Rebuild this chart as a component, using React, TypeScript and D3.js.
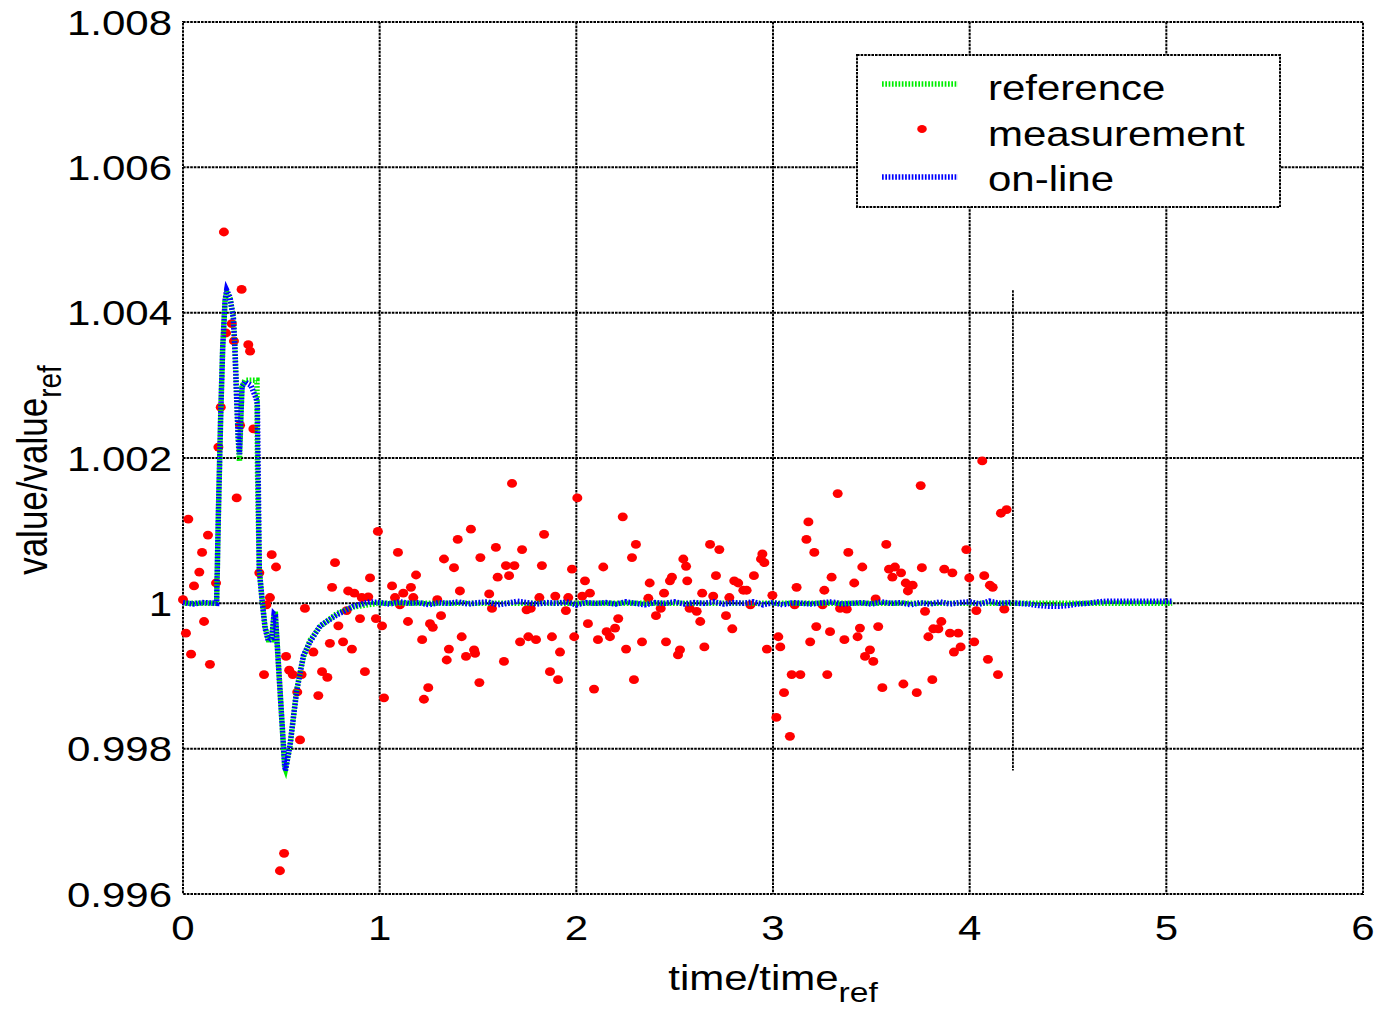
import React from "react";
import * as d3 from "d3";

// Axis ticks
const xTicks = [0, 1, 2, 3, 4, 5, 6];
const xTickLabels = ["0", "1", "2", "3", "4", "5", "6"];
const yTicks = [0.996, 0.998, 1, 1.002, 1.004, 1.006, 1.008];
const yTickLabels = ["0.996", "0.998", "1", "1.002", "1.004", "1.006", "1.008"];

const legendLabels = ["reference", "measurement", "on-line"];

// Reference trajectory (time, value)
const referenceCurve: [number, number][] = [
  [0, 1], [0.171, 1], [0.18, 1.00124], [0.192, 1.00262], [0.202, 1.00353],
  [0.214, 1.00417], [0.222, 1.00428], [0.239, 1.0042], [0.256, 1.00394],
  [0.264, 1.00353], [0.273, 1.00284], [0.281, 1.00225], [0.287, 1.00195],
  [0.295, 1.00262], [0.3, 1.00298], [0.315, 1.00307], [0.376, 1.00307],
  [0.379, 1.0018], [0.388, 1.00046], [0.402, 1.00005], [0.417, 0.99968],
  [0.434, 0.9995], [0.451, 0.9995], [0.463, 0.99985], [0.47, 0.99985],
  [0.517, 0.99775], [0.521, 0.99772], [0.544, 0.99803], [0.578, 0.99881],
  [0.612, 0.99926], [0.646, 0.99949], [0.697, 0.99968], [0.782, 0.99986],
  [0.866, 0.99995], [0.985, 1], [5.03, 1],
];

// On-line estimate (time, value)
const onlineCurve: [number, number][] = [
  [0, 1.00001], [0.05, 0.99999], [0.1, 1.00001], [0.171, 1], [0.18, 1.00124],
  [0.192, 1.00262], [0.202, 1.00353], [0.214, 1.00417], [0.222, 1.00431],
  [0.239, 1.00421], [0.256, 1.00392], [0.264, 1.0035], [0.273, 1.0028],
  [0.281, 1.00228], [0.287, 1.00205], [0.295, 1.00262], [0.3, 1.00298],
  [0.315, 1.00305], [0.345, 1.003], [0.372, 1.00282], [0.378, 1.00275],
  [0.388, 1.00046], [0.402, 1.00005], [0.417, 0.99966], [0.434, 0.99948],
  [0.451, 0.99952], [0.463, 0.99985], [0.47, 0.99983], [0.517, 0.99776],
  [0.521, 0.9977], [0.544, 0.99805], [0.578, 0.99879], [0.612, 0.99928],
  [0.646, 0.99947], [0.697, 0.99969], [0.782, 0.99984], [0.866, 0.99996],
  [0.95, 1.00002], [1.0, 1.00001], [1.05, 0.99999], [1.1, 1.00002], [1.15, 1],
  [1.2, 1.00001], [1.25, 0.99998], [1.3, 1.00001], [1.35, 1], [1.4, 1.00002],
  [1.45, 0.99999], [1.5, 1.00001], [1.55, 1.00002], [1.6, 0.99998], [1.65, 1],
  [1.7, 1.00003], [1.75, 1.00001], [1.8, 0.99999], [1.85, 1.00001], [1.9, 1],
  [1.95, 1.00002], [2.0, 0.99998], [2.05, 1.00001], [2.1, 1], [2.15, 1.00001],
  [2.2, 0.99999], [2.25, 1.00002], [2.3, 1], [2.35, 0.99998], [2.4, 1.00001],
  [2.45, 1], [2.5, 1.00002], [2.55, 0.99999], [2.6, 1.00001], [2.65, 1],
  [2.7, 1.00002], [2.75, 0.99999], [2.8, 1.00001], [2.85, 1], [2.9, 1.00002],
  [2.95, 0.99998], [3.0, 1.00001], [3.05, 0.99998], [3.1, 1.00001], [3.15, 1],
  [3.2, 0.99999], [3.25, 1.00001], [3.3, 1.00002], [3.35, 0.99999], [3.4, 1],
  [3.45, 1.00001], [3.5, 0.99999], [3.55, 1.00002], [3.6, 1], [3.65, 1.00001],
  [3.7, 0.99998], [3.75, 1.00001], [3.8, 0.99999], [3.85, 1.00002], [3.9, 0.99999],
  [3.95, 1.00001], [4.0, 1.00002], [4.05, 0.99999], [4.1, 1.00003], [4.15, 1],
  [4.2, 1.00001], [4.25, 1], [4.3, 0.99999], [4.35, 0.99997], [4.4, 0.99996],
  [4.45, 0.99996], [4.5, 0.99997], [4.55, 0.99999], [4.6, 1], [4.65, 1.00002],
  [4.7, 1.00003], [5.03, 1.00003],
];

// Measured samples (time, value)
const measurement: [number, number][] = [
  [0, 1.00005], [0.015, 0.99959], [0.027, 1.00116], [0.041, 0.9993], [0.056, 1.00024],
  [0.083, 1.00043], [0.097, 1.0007], [0.107, 0.99975], [0.127, 1.00094], [0.137, 0.99916],
  [0.168, 1.00028], [0.18, 1.00215], [0.192, 1.0027], [0.208, 1.00511], [0.219, 1.00372],
  [0.248, 1.00385], [0.259, 1.00361], [0.273, 1.00145], [0.29, 1.00245], [0.298, 1.00432],
  [0.332, 1.00356], [0.341, 1.00347], [0.358, 1.0024], [0.388, 1.00042], [0.412, 0.99902],
  [0.424, 0.99998], [0.442, 1.00008], [0.451, 1.00067], [0.473, 1.0005], [0.493, 0.99632],
  [0.514, 0.99656], [0.524, 0.99927], [0.54, 0.99908], [0.558, 0.99902], [0.581, 0.99878],
  [0.595, 0.99812], [0.603, 0.99902], [0.62, 0.99993], [0.663, 0.99933], [0.688, 0.99873],
  [0.707, 0.99906], [0.734, 0.99898], [0.747, 0.99945], [0.758, 1.00022], [0.773, 1.00056],
  [0.79, 0.99969], [0.814, 0.99947], [0.832, 0.9999], [0.84, 1.00017], [0.859, 0.99937],
  [0.871, 1.00014], [0.9, 0.99979], [0.909, 1.00008], [0.925, 0.99906], [0.942, 1.00009],
  [0.951, 1.00035], [0.981, 0.99979], [0.991, 1.00099], [1.012, 0.99969], [1.022, 0.9987],
  [1.063, 1.00024], [1.078, 1.00008], [1.093, 1.0007], [1.103, 0.99998], [1.12, 1.00014],
  [1.144, 0.99975], [1.159, 1.00022], [1.171, 1.00008], [1.185, 1.00039], [1.216, 0.9995],
  [1.225, 0.99868], [1.247, 0.99884], [1.256, 0.99972], [1.27, 0.99967], [1.293, 1.00005],
  [1.312, 0.99983], [1.327, 1.00061], [1.341, 0.99922], [1.352, 0.99937], [1.378, 1.00049],
  [1.397, 1.00088], [1.408, 1.00017], [1.417, 0.99954], [1.439, 0.99927], [1.464, 1.00102],
  [1.48, 0.99936], [1.485, 0.99931], [1.507, 0.99891], [1.512, 1.00063], [1.557, 1.00013],
  [1.571, 0.99993], [1.591, 1.00077], [1.6, 1.00036], [1.632, 0.9992], [1.642, 1.00052],
  [1.658, 1.00038], [1.673, 1.00165], [1.685, 1.00052], [1.714, 0.99947], [1.724, 1.00074],
  [1.747, 0.99991], [1.756, 0.99954], [1.768, 0.99993], [1.795, 0.9995], [1.812, 1.00008],
  [1.825, 1.00052], [1.836, 1.00095], [1.866, 0.99906], [1.876, 0.99954], [1.893, 1.0001],
  [1.907, 0.99895], [1.917, 0.99933], [1.947, 0.9999], [1.959, 1.00008], [1.978, 1.00047],
  [1.989, 0.99954], [2.005, 1.00145], [2.03, 1.0001], [2.044, 1.00031], [2.059, 0.99972],
  [2.069, 1.00014], [2.09, 0.99882], [2.11, 0.9995], [2.137, 1.0005], [2.154, 0.99961],
  [2.171, 0.99954], [2.197, 0.99966], [2.213, 0.99979], [2.236, 1.00119], [2.253, 0.99937],
  [2.283, 1.00063], [2.293, 0.99895], [2.303, 1.00081], [2.334, 0.99947], [2.366, 1.00007],
  [2.373, 1.00028], [2.405, 0.99983], [2.429, 0.99993], [2.446, 1.00014], [2.456, 0.99947],
  [2.476, 1.00031], [2.486, 1.00036], [2.517, 0.99929], [2.527, 0.99936], [2.544, 1.00061],
  [2.558, 1.00051], [2.564, 1.00031], [2.576, 0.99993], [2.612, 0.99989], [2.63, 0.99975],
  [2.64, 1.00014], [2.651, 0.9994], [2.68, 1.00081], [2.696, 1.0001], [2.71, 1.00038],
  [2.727, 1.00074], [2.761, 0.99983], [2.778, 1.00008], [2.793, 0.99965], [2.803, 1.00031],
  [2.823, 1.00028], [2.849, 1.00018], [2.866, 1.00018], [2.885, 0.99998], [2.903, 1.00038],
  [2.939, 1.00061], [2.946, 1.00068], [2.956, 1.00056], [2.969, 0.99937], [2.997, 1.00011],
  [3.017, 0.99843], [3.027, 0.99954], [3.037, 0.9994], [3.056, 0.99877], [3.086, 0.99817],
  [3.095, 0.99902], [3.11, 0.99998], [3.12, 1.00022], [3.139, 0.99902], [3.17, 1.00088],
  [3.18, 1.00112], [3.189, 0.99947], [3.21, 1.0007], [3.22, 0.99968], [3.252, 0.99998],
  [3.261, 1.00018], [3.276, 0.99902], [3.29, 0.99961], [3.298, 1.00036], [3.329, 1.00151],
  [3.341, 0.99993], [3.363, 0.9995], [3.375, 0.99992], [3.383, 1.0007], [3.413, 1.00028],
  [3.43, 0.99954], [3.442, 0.99966], [3.454, 1.0005], [3.468, 0.99927], [3.493, 0.99936],
  [3.51, 0.9992], [3.522, 1.00006], [3.535, 0.99968], [3.556, 0.99884], [3.576, 1.00081],
  [3.59, 1.00047], [3.607, 1.00036], [3.62, 1.0005], [3.651, 1.00042], [3.663, 0.99889],
  [3.675, 1.00028], [3.686, 1.00017], [3.71, 1.00025], [3.731, 0.99877], [3.751, 1.00162],
  [3.757, 1.00049], [3.773, 0.99989], [3.79, 0.99954], [3.81, 0.99895], [3.815, 0.99965],
  [3.841, 0.99965], [3.856, 0.99975], [3.871, 1.00047], [3.9, 0.99959], [3.912, 1.00042],
  [3.92, 0.99933], [3.942, 0.99959], [3.954, 0.9994], [3.983, 1.00074], [3.998, 1.00035],
  [4.023, 0.99947], [4.034, 0.9999], [4.064, 1.00196], [4.074, 1.00038], [4.093, 0.99923],
  [4.103, 1.00025], [4.117, 1.00022], [4.144, 0.99902], [4.159, 1.00124], [4.176, 0.99992],
  [4.188, 1.00129],
];

// Time at which the estimator range marker is drawn
const markerTime = 4.22;

const W = 1378;
const H = 1014;
const M = { left: 183, right: 1363, top: 22, bottom: 894 };
const FONT = "'Liberation Sans', Arial, Helvetica, sans-serif";
const SX = 1.2; // horizontal text stretch
const GRID_DASH = "2.6 1";
const CURVE_DASH = "1.7 1.6";

function Label(props: {
  x: number; y: number; size: number; anchor?: string; rotate?: number; children: React.ReactNode;
}) {
  const { x, y, size, anchor = "start", rotate, children } = props;
  const tr = `translate(${x},${y}) scale(${SX},1)` + (rotate ? ` rotate(${rotate})` : "");
  return (
    <text transform={tr} fontFamily={FONT} fontSize={size} textAnchor={anchor} fill="#000">
      {children}
    </text>
  );
}

export default function App() {
  const x = d3.scaleLinear().domain([0, 6]).range([M.left, M.right]);
  const y = d3.scaleLinear().domain([0.996, 1.008]).range([M.bottom, M.top]);
  const line = d3
    .line<[number, number]>()
    .x((d) => x(d[0]))
    .y((d) => y(d[1]));

  const allVals = onlineCurve.map((d) => d[1]);
  const vMax = d3.max(allVals) as number;
  const vMin = d3.min(allVals) as number;

  const lg = { x: 857, y: 55, w: 423, h: 152 };
  const lgRows = [84, 129, 177];
  const lgBase = [100, 145.5, 191];

  return (
    <svg
      width={W}
      height={H}
      style={{ position: "absolute", left: 0, top: 0, background: "#fff" }}
    >
      <rect x={0} y={0} width={W} height={H} fill="#fff" />

      {/* grid */}
      <g stroke="#000" strokeWidth={2} strokeDasharray={GRID_DASH} fill="none">
        {xTicks.slice(1, -1).map((t) => (
          <line key={"gx" + t} x1={x(t)} x2={x(t)} y1={M.top} y2={M.bottom} />
        ))}
        {yTicks.slice(1, -1).map((t) => (
          <line key={"gy" + t} x1={M.left} x2={M.right} y1={y(t)} y2={y(t)} />
        ))}
        <rect x={M.left} y={M.top} width={M.right - M.left} height={M.bottom - M.top} />
      </g>

      {/* measurements */}
      <g fill="#ff0000">
        {measurement.map((d, i) => (
          <ellipse key={i} cx={x(d[0])} cy={y(d[1])} rx={5} ry={4.4} />
        ))}
      </g>

      {/* curves */}
      <path
        d={line(referenceCurve) || ""}
        fill="none"
        stroke="#00ee00"
        strokeWidth={5.5}
        strokeDasharray={CURVE_DASH}
        strokeDashoffset={1.6}
      />
      <path
        d={line(onlineCurve) || ""}
        fill="none"
        stroke="#0000ff"
        strokeWidth={5.5}
        strokeDasharray={CURVE_DASH}
      />

      {/* range marker */}
      <line
        x1={x(markerTime)}
        x2={x(markerTime)}
        y1={y(vMax)}
        y2={y(vMin)}
        stroke="#000"
        strokeWidth={1.8}
        strokeDasharray={GRID_DASH}
      />

      {/* tick labels */}
      {xTicks.map((t, i) => (
        <Label key={"xl" + t} x={x(t)} y={940} size={35} anchor="middle">
          {xTickLabels[i]}
        </Label>
      ))}
      {yTicks.map((t, i) => (
        <Label key={"yl" + t} x={172} y={y(t) + 12.5} size={35} anchor="end">
          {yTickLabels[i]}
        </Label>
      ))}

      {/* axis titles */}
      <Label x={773} y={990} size={35} anchor="middle">
        time/time
        <tspan fontSize={28} dy={12}>ref</tspan>
      </Label>
      <Label x={47} y={470} size={35} anchor="middle" rotate={-90}>
        value/value
        <tspan fontSize={28} dy={12}>ref</tspan>
      </Label>

      {/* legend */}
      <rect
        x={lg.x}
        y={lg.y}
        width={lg.w}
        height={lg.h}
        fill="#fff"
        stroke="#000"
        strokeWidth={2}
        strokeDasharray={GRID_DASH}
      />
      <line x1={882} x2={958} y1={lgRows[0]} y2={lgRows[0]} stroke="#00ee00" strokeWidth={5.5} strokeDasharray={CURVE_DASH} />
      <ellipse cx={922} cy={lgRows[1]} rx={4.8} ry={4} fill="#ff0000" />
      <line x1={882} x2={958} y1={lgRows[2]} y2={lgRows[2]} stroke="#0000ff" strokeWidth={5.5} strokeDasharray={CURVE_DASH} />
      {legendLabels.map((s, i) => (
        <Label key={s} x={988} y={lgBase[i]} size={35}>
          {s}
        </Label>
      ))}
    </svg>
  );
}
